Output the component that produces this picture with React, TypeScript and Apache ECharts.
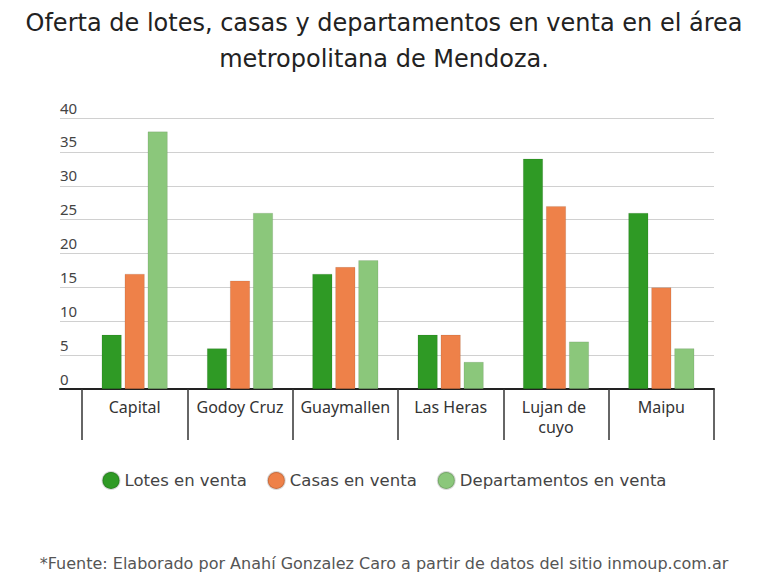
import React, { useEffect, useRef } from "react";
import * as echarts from "echarts";

const categories = ["Capital", "Godoy Cruz", "Guaymallen", "Las Heras", "Lujan de cuyo", "Maipu"];
const lotes = [8, 6, 17, 8, 34, 26];
const casas = [17, 16, 18, 8, 27, 15];
const departamentos = [38, 26, 19, 4, 7, 6];
const seriesNames = ["Lotes en venta", "Casas en venta", "Departamentos en venta"];
const colors = ["#2f9a25", "#ee8149", "#8bc77b"];
const titleText = "Oferta de lotes, casas y departamentos en venta en el área\nmetropolitana de Mendoza.";
const footerText = "*Fuente: Elaborado por Anahí Gonzalez Caro a partir de datos del sitio inmoup.com.ar";

export default function App() {
  const ref = useRef<HTMLDivElement>(null);
  useEffect(() => {
    if (!ref.current) return;
    const chart = echarts.init(ref.current, null, { renderer: "svg" });
    const font = "DejaVu Sans";
    const values = [lotes, casas, departamentos];
    chart.setOption({
      animation: false,
      backgroundColor: "#ffffff",
      textStyle: { fontFamily: font },
      title: [
        {
          text: titleText,
          left: "center",
          top: 0,
          textStyle: { fontFamily: font, fontSize: 24, fontWeight: "normal", lineHeight: 36, color: "#222222" },
        },
        {
          text: footerText,
          left: "center",
          top: 550,
          textStyle: { fontFamily: font, fontSize: 16, fontWeight: 400, color: "#555555" },
        },
      ],
      legend: {
        top: 466,
        left: "center",
        icon: "circle",
        itemWidth: 17,
        itemHeight: 17,
        itemGap: 20,
        textStyle: { fontFamily: font, fontSize: 16.5, color: "#444444" },
        data: seriesNames,
      },
      grid: [
        { left: 60, right: 54, top: 118, bottom: 187 },
        { left: 82, right: 54, top: 118, bottom: 187 },
      ],
      xAxis: [
        {
          type: "category",
          gridIndex: 0,
          data: [""],
          axisLine: { show: true, lineStyle: { color: "#222222", width: 2 } },
          axisTick: { show: false },
          axisLabel: { show: false },
        },
        {
          type: "category",
          gridIndex: 1,
          data: categories,
          axisLine: { show: false },
          axisTick: { show: true, length: 51, interval: 0, lineStyle: { color: "#333333", width: 1.5 } },
          axisLabel: {
            interval: 0,
            margin: 8,
            fontSize: 16,
            lineHeight: 20,
            color: "#333333",
            fontFamily: "Noto Sans",
            width: 96,
            overflow: "break",
          },
        },
      ],
      yAxis: [
        {
          type: "value",
          gridIndex: 0,
          min: 0,
          max: 40,
          interval: 5,
          axisLine: { show: false },
          axisTick: { show: false },
          splitLine: { lineStyle: { color: "#d0d0d0", width: 1 } },
          axisLabel: {
            margin: 0,
            align: "left",
            verticalAlign: "bottom",
            padding: [0, 0, 3, 0],
            fontSize: 15,
            color: "#444444",
            fontFamily: "Noto Sans",
          },
        },
        {
          type: "value",
          gridIndex: 1,
          min: 0,
          max: 40,
          interval: 5,
          show: false,
          splitLine: { show: false },
        },
      ],
      series: seriesNames.map((name, i) => ({
        name,
        type: "bar",
        xAxisIndex: 1,
        yAxisIndex: 1,
        data: values[i],
        barWidth: 20,
        barGap: "15%",
        itemStyle: { color: colors[i], borderColor: "rgba(0,0,0,0.15)", borderWidth: 0.6 },
      })),
    });
    return () => chart.dispose();
  }, []);
  return <div ref={ref} style={{ position: "absolute", left: 0, top: 0, width: 768, height: 576 }} />;
}
